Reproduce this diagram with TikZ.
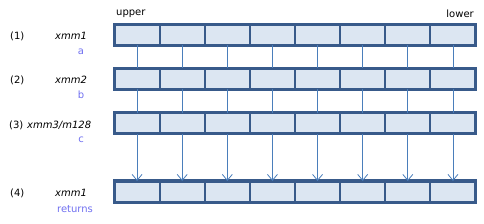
\documentclass[tikz,border=0pt]{standalone}
\usepackage{fontspec}
\setmainfont{DejaVu Sans}
\usetikzlibrary{arrows.meta,positioning}
\definecolor{cellfill}{RGB}{220,230,242}
\definecolor{celledge}{RGB}{56,90,138}
\definecolor{wireblue}{RGB}{74,126,187}
\definecolor{argblue}{RGB}{112,112,240}
\tikzset{
      cellbox/.style={
        rectangle,
        draw=celledge,
        line width=2pt,
        fill=cellfill,
        minimum width=45.125pt,
        minimum height=21pt,
        inner sep=0pt,
        outer sep=0pt
      },
      regframe/.style={draw=celledge, line width=3pt},
      wire/.style={draw=wireblue, line width=0.8pt},
      arrowwire/.style={wire, -{Straight Barb[length=6pt,width=10pt,line width=0.8pt]}},
      txt/.style={inner sep=0pt, font=\fontsize{10}{12}\selectfont},
      reglabel/.style={txt, font=\fontsize{10}{12}\selectfont\itshape},
      arglabel/.style={txt, text=argblue}
    }
\begin{document}
\begin{tikzpicture}[x=1pt,y=-1pt]
    \useasboundingbox (0,0) rectangle (484,224);
    % register rows
    \foreach \r/\y in {1/35, 2/79, 3/123.5, 4/191.5} {
      \foreach \i in {1,...,8} {
        \node[cellbox] (r\r c\i) at ({114.5+45.125*(\i-0.5)},\y) {};
      }
      \draw[regframe] (r\r c1.north west) rectangle (r\r c8.south east);
    }
    \node[txt, anchor=west] (up) at (116,14) {upper};
    \node[txt, anchor=east] (lo) at (474,14) {lower};
    % row labels
    \node[txt, anchor=west] (n1) at (10,36) {(1)};
    \node[reglabel] (x1) at (71,36) {xmm1};
    \node[arglabel] (a1) at (81,52) {a};
    \node[txt, anchor=west] (n2) at (10,80) {(2)};
    \node[reglabel] (x2) at (71,80) {xmm2};
    \node[arglabel] (a2) at (81,95) {b};
    \node[txt, anchor=west] (n3) at (9,125) {(3)};
    \node[reglabel, anchor=west] (x3) at (27,125) {xmm3/m128};
    \node[arglabel] (a3) at (81,140) {c};
    \node[txt, anchor=west] (n4) at (10,193) {(4)};
    \node[reglabel] (x4) at (71,193) {xmm1};
    \node[arglabel] (a4) at (75,209) {returns};
    % connectors
    \foreach \i in {1,...,8} {
      \draw[wire] (r1c\i.south) -- (r2c\i.north);
      \draw[wire] (r2c\i.south) -- (r3c\i.north);
      \draw[arrowwire] (r3c\i.south) -- (r4c\i.north);
    }
\end{tikzpicture}
\end{document}
